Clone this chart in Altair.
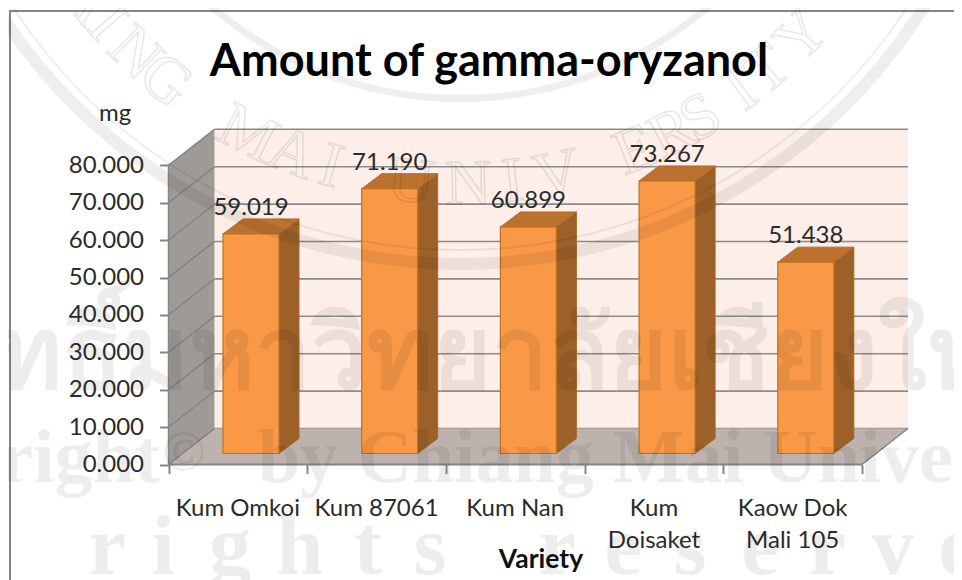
import math
import altair as alt
import pandas as pd

varieties = ["Kum Omkoi", "Kum 87061", "Kum Nan", "Kum Doisaket", "Kaow Dok Mali 105"]
cat_labels = ["Kum Omkoi", "Kum 87061", "Kum Nan", "Kum\nDoisaket", "Kaow Dok\nMali 105"]
amounts = [59.019, 71.190, 60.899, 73.267, 51.438]
y_ticks = [0, 10, 20, 30, 40, 50, 60, 70, 80]
x_ticks = [0, 1, 2, 3, 4, 5]
title_text = "Amount of gamma-oryzanol"

W, H = 946, 572
PX_X = 138.7
PX_Y = 3.74
X0, Y0 = 160.5, 456.5
xs = alt.Scale(domain=[-X0 / PX_X, (W - X0) / PX_X], range=[0, W], nice=False, zero=False)
ys = alt.Scale(domain=[-(H - Y0) / PX_Y, Y0 / PX_Y], range=[H, 0], nice=False, zero=False)

def py(v):
    return (Y0 - (v - 8)) / PX_Y

def X(f):
    return alt.X(f, type="quantitative", scale=xs, axis=None, title=None)

def Y(f):
    return alt.Y(f, type="quantitative", scale=ys, axis=None, title=None)

X2 = lambda f: alt.X2(f)
Y2 = lambda f: alt.Y2(f)

FONT = "Lato"
DX, DY = 46 / PX_X, 36 / PX_Y
BAR_L, BAR_W = 54.5 / PX_X, 56 / PX_X
BAR_DX, BAR_DY = 20 / PX_X, 15 / PX_Y
BAR_BASE = 11 / PX_Y
PROJ = 3.72 / PX_Y
GRID = "#8b8b8b"

# frame
frame = alt.Chart(pd.DataFrame({"a": [0]})).mark_rect(fill="white", stroke="#858585", strokeWidth=2).encode(
    x=alt.value(2), x2=alt.value(W + 20), y=alt.value(3), y2=alt.value(H + 20))

# walls and floor
back = alt.Chart(pd.DataFrame({"x": [DX], "x2": [5 + DX], "y": [DY], "y2": [80 + DY]})).mark_rect(fill="#fdeee9").encode(
    x=X("x"), x2=X2("x2"), y=Y("y"), y2=Y2("y2"))
side_wall = alt.Chart(pd.DataFrame({"x": [0, DX], "y": [0, DY], "y2": [80, 80 + DY]})).mark_area(fill="#a09a96").encode(
    x=X("x"), y=Y("y"), y2=Y2("y2"))
floor = alt.Chart(pd.DataFrame({"y": [0, DY], "x": [0, DX], "x2": [5, 5 + DX]})).mark_area(orient="horizontal", fill="#bdb2ae").encode(
    y=Y("y"), x=X("x"), x2=X2("x2"))

grid_df = pd.DataFrame({"x": [DX] * len(y_ticks), "x2": [5 + DX] * len(y_ticks), "y": [t + DY for t in y_ticks]})
grid = alt.Chart(grid_df).mark_rule(color=GRID, strokeWidth=1.6).encode(x=X("x"), x2=X2("x2"), y=Y("y"))

diag_rows = []
for t in y_ticks:
    diag_rows += [{"t": t, "x": 0, "y": t}, {"t": t, "x": DX, "y": t + DY}]
diag_rows += [{"t": 100, "x": 5, "y": 0}, {"t": 100, "x": 5 + DX, "y": DY}]
diag = alt.Chart(pd.DataFrame(diag_rows)).mark_line(color="#7d7d7d", strokeWidth=1.2).encode(
    x=X("x"), y=Y("y"), detail="t:N")

axis_x = alt.Chart(pd.DataFrame({"x": [0], "x2": [5], "y": [0]})).mark_rule(color="#868686", strokeWidth=2).encode(
    x=X("x"), x2=X2("x2"), y=Y("y"))
axis_y = alt.Chart(pd.DataFrame({"x": [0], "y": [0], "y2": [80]})).mark_rule(color="#868686", strokeWidth=1.5).encode(
    x=X("x"), y=Y("y"), y2=Y2("y2"))

# axes (real ones, with ticks and tick labels)
axes = alt.Chart(pd.DataFrame({"x": [0], "y": [0]})).mark_point(opacity=0).encode(
    x=alt.X("x:Q", scale=xs, title=None, axis=alt.Axis(
        values=x_ticks, labels=False, grid=False, domain=False, offset=-(H - Y0), tickSize=9,
        tickColor="#868686", tickWidth=2, zindex=1)),
    y=alt.Y("y:Q", scale=ys, title=None, axis=alt.Axis(
        values=y_ticks, format=".3f", grid=False, domain=False, offset=-X0, tickSize=9,
        tickColor="#868686", tickWidth=2, labelPadding=16, labelFont=FONT, labelFontSize=24,
        labelColor="#2b2b2b", labelFontWeight="normal", zindex=1)),
)

# bars
fronts, sides, tops = [], [], []
for i, (n, v) in enumerate(zip(varieties, amounts)):
    l, r = i + BAR_L, i + BAR_L + BAR_W
    b, t = BAR_BASE, BAR_BASE + v * PROJ
    fronts.append({"v": n, "x": l, "x2": r, "y": b, "y2": t, "c": (l + r) / 2, "val": v, "lab": t + BAR_DY + 4 / PX_Y})
    sides += [{"v": n, "x": r, "y": b, "y2": t}, {"v": n, "x": r + BAR_DX, "y": b + BAR_DY, "y2": t + BAR_DY}]
    tops += [{"v": n, "y": t, "x": l, "x2": r}, {"v": n, "y": t + BAR_DY, "x": l + BAR_DX, "x2": r + BAR_DX}]
fdf = pd.DataFrame(fronts)
STK = "#c0701f"
bar_front = alt.Chart(fdf).mark_rect(fill="#f99846", stroke=STK, strokeWidth=1.2).encode(
    x=X("x"), x2=X2("x2"), y=Y("y"), y2=Y2("y2"))
bar_side = alt.Chart(pd.DataFrame(sides)).mark_area(fill="#9c6029", stroke="#a9682b", strokeWidth=1).encode(
    x=X("x"), y=Y("y"), y2=Y2("y2"), detail="v:N")
bar_top = alt.Chart(pd.DataFrame(tops)).mark_area(orient="horizontal", fill="#bb7230", stroke="#b56c2a", strokeWidth=1).encode(
    y=Y("y"), x=X("x"), x2=X2("x2"), detail="v:N")
bar_text = alt.Chart(fdf).mark_text(font=FONT, fontSize=24, color="#2b2b2b", baseline="alphabetic").encode(
    x=X("c"), y=Y("lab"), text=alt.Text("val:Q", format=".3f"))

cat_df = pd.DataFrame({"x": [i + 0.5 for i in range(5)], "y": [py(516)] * 5, "t": cat_labels})
cat_text = alt.Chart(cat_df).mark_text(font=FONT, fontSize=24, color="#2b2b2b", baseline="alphabetic", lineBreak="\n", lineHeight=32).encode(
    x=X("x"), y=Y("y"), text="t:N")

def label(txt, px, pyv, size, bold=False, color="#2b2b2b"):
    d = pd.DataFrame({"x": [(px - 8 - X0) / PX_X], "y": [py(pyv)], "t": [txt]})
    return alt.Chart(d).mark_text(font=FONT, fontSize=size, color=color, baseline="alphabetic",
                                  fontWeight="bold" if bold else "normal").encode(x=X("x"), y=Y("y"), text="t:N")

title = label(title_text, 489, 76, 45, True, "#000000")
mg = label("mg", 115, 121, 24)
variety = label("Variety", 541, 568, 26.5, True, "#111111")

# watermark
WM = 0.065
CX, CY = 460 - 8, -283 - 8
rings = pd.DataFrame({"x": [CX] * 3, "y": [CY] * 3, "r": [378, 532, 541], "r2": [385, 534, 553]})
ring_marks = [
    alt.Chart(rings.iloc[[i]]).mark_arc(fill="black", opacity=WM, theta=0, theta2=2 * math.pi,
                                        radius=float(rings.r[i]), radius2=float(rings.r2[i])).encode(
        x=alt.X("x:Q", scale=None), y=alt.Y("y:Q", scale=None))
    for i in range(3)
]
ring_letters = ["H", "A", "I", "N", "G", "M", "A", "I", "U", "N", "I", "V", "E", "R", "S", "I", "T", "Y"]
ring_angles = [-58, -53, -49, -44, -39, -27, -21, -16, -6, 1, 6.5, 12, 22, 27, 31, 37, 41, 47]
lt = pd.DataFrame({
    "l": ring_letters,
    "x": [CX + 468 * math.sin(math.radians(a)) for a in ring_angles],
    "y": [CY + 468 * math.cos(math.radians(a)) for a in ring_angles],
    "a": [(-a) % 360 for a in ring_angles],
})
letters = alt.Chart(lt).mark_text(font="Liberation Serif", fontSize=64, baseline="middle", fillOpacity=0,
                                  stroke="black", strokeOpacity=WM + 0.03, strokeWidth=1.6).encode(
    x=alt.X("x:Q", scale=None), y=alt.Y("y:Q", scale=None), text="l:N",
    angle=alt.Angle("a:Q", scale=None))

def wm_text(t, x, y, size, align="left", weight="bold"):
    d = pd.DataFrame({"x": [x - 8], "y": [y - 8], "t": [t]})
    return alt.Chart(d).mark_text(font="Liberation Serif", fontSize=size, fontWeight=weight, fill="black", opacity=WM,
                                  align=align, baseline="alphabetic").encode(
        x=alt.X("x:Q", scale=None), y=alt.Y("y:Q", scale=None), text="t:N")

wm_layers = [
    wm_text("ลิขสิทธิ์มหาวิทยาลัยเชียงใหม่", -194, 388, 100),
    wm_text("Copyright", 160, 482, 76, "right"),
    wm_text("©", 162, 470, 58),
    wm_text("by Chiang Mai University", 258, 482, 76),
]
rs_letters = list("rights") + list("reserve")
rs_x = [107, 163, 230, 300, 368, 430, 557, 623, 690, 760, 827, 893, 957]
rs = pd.DataFrame({"t": rs_letters, "x": [v - 8 for v in rs_x], "y": [574 - 8] * 13})
rs_mark = alt.Chart(rs).mark_text(font="Liberation Serif", fontSize=85, fontWeight="bold", fill="black", opacity=WM,
                                  baseline="alphabetic").encode(
    x=alt.X("x:Q", scale=None), y=alt.Y("y:Q", scale=None), text="t:N")

chart = alt.layer(
    frame, axes, back, grid, side_wall, floor, diag, axis_x, axis_y, bar_side, bar_top, bar_front,
    bar_text, cat_text, title, mg, variety,
    *ring_marks, letters, *wm_layers, rs_mark,
).resolve_axis(x="independent", y="independent").properties(
    width=W, height=H, padding=0, autosize=alt.AutoSizeParams(type="none")
).configure_view(stroke=None)

chart.save("out.html", embed_options={"renderer": "svg", "actions": False})
